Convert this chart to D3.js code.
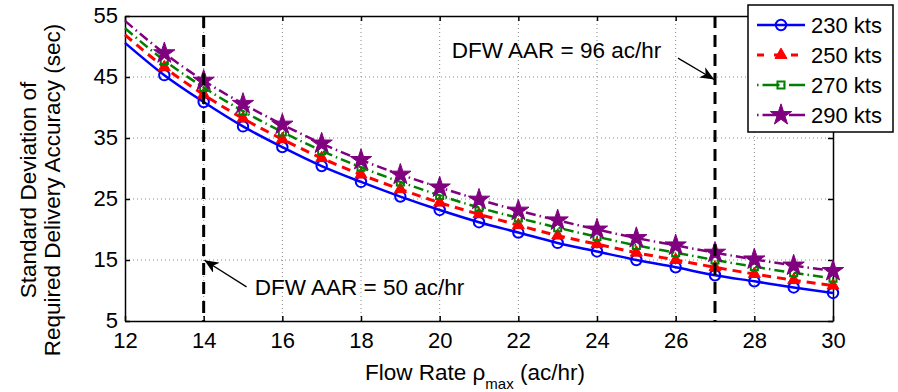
<!DOCTYPE html>
<html>
<head>
<meta charset="utf-8">
<script src="https://cdn.jsdelivr.net/npm/d3@7"></script>
<style type="text/css">
	body {
		margin: 0;
		background-color: #ffffff;
	}
	svg text {
		font-family: "Liberation Sans", Arial, Helvetica, sans-serif;
		fill: #000;
	}
	.axis path, .axis line {
		stroke: #000;
		stroke-width: 1.5;
	}
	.axis text {
		font-size: 22px;
	}
	.grid line {
		stroke: #8a8a8a;
		stroke-width: 1;
		stroke-dasharray: 1,3;
	}
</style>
</head>
<body>
<svg id="chart" width="898" height="392"></svg>
<script type="text/javascript">

// flow rate (ac/hr)
var flowRate = [12,13,14,15,16,17,18,19,20,21,22,23,24,25,26,27,28,29,30];

// std dev of required delivery accuracy (sec), one per speed
var kts230 = [50.6,45.3,40.9,36.9,33.5,30.4,27.8,25.4,23.2,21.2,19.5,17.8,16.4,15.0,13.8,12.5,11.5,10.5,9.6];
var kts250 = [51.9,46.6,42.1,38.2,34.8,31.7,29.0,26.6,24.4,22.5,20.7,19.0,17.6,16.2,15.0,13.8,12.7,11.7,10.8];
var kts270 = [53.0,47.7,43.3,39.4,36.0,32.9,30.2,27.8,25.6,23.6,21.9,20.3,18.8,17.4,16.2,15.0,13.9,12.9,12.0];
var kts290 = [54.2,48.9,44.4,40.6,37.2,34.1,31.4,29.0,26.9,24.9,23.1,21.5,20.0,18.6,17.4,16.2,15.1,14.1,13.2];

var seriesNames = ["230 kts","250 kts","270 kts","290 kts"];

var xTicks = [12,14,16,18,20,22,24,26,28,30];
var yTicks = [5,15,25,35,45,55];

// DFW airport arrival rates marked on the chart
var aarLines = [14, 27];

var svg = d3.select("#chart");
var L = 125, R = 833, T = 16, B = 321;

var x = d3.scaleLinear().domain([12,30]).range([L,R]);
var y = d3.scaleLinear().domain([5,55]).range([B,T]);

// grid
var grid = svg.append("g").attr("class","grid");
grid.selectAll(".gx").data(xTicks.slice(1,-1)).enter().append("line")
	.attr("x1", d => x(d)).attr("x2", d => x(d)).attr("y1", T).attr("y2", B);
grid.selectAll(".gy").data(yTicks.slice(1,-1)).enter().append("line")
	.attr("x1", L).attr("x2", R).attr("y1", d => y(d)).attr("y2", d => y(d));

// axes (ticks inside, box)
svg.append("g").attr("class","axis").attr("transform",`translate(0,${B})`)
	.call(d3.axisBottom(x).tickValues(xTicks).tickSize(-5).tickSizeOuter(0).tickPadding(11));
var yax = svg.append("g").attr("class","axis").attr("transform",`translate(${L},0)`)
	.call(d3.axisLeft(y).tickValues(yTicks).tickSize(-5).tickSizeOuter(0).tickPadding(7));
yax.selectAll("text").attr("dy","0.28em");
svg.append("g").attr("class","axis").attr("transform",`translate(0,${T})`)
	.call(d3.axisTop(x).tickValues(xTicks).tickSize(-5).tickSizeOuter(0).tickFormat(""));
svg.append("g").attr("class","axis").attr("transform",`translate(${R},0)`)
	.call(d3.axisRight(y).tickValues(yTicks).tickSize(-5).tickSizeOuter(0).tickFormat(""));

var styles = [
	{ color: "#0000ff", dash: null, width: 2.5, sym: d3.symbolCircle, size: 85, fill: "none" },
	{ color: "#ff0000", dash: "9,6", width: 3, sym: d3.symbolTriangle, size: 62, fill: "#ff0000" },
	{ color: "#008000", dash: "10,4,1.5,4", width: 2.5, sym: d3.symbolSquare, size: 50, fill: "none" },
	{ color: "#800080", dash: "10,4,1.5,4", width: 2.5, sym: d3.symbolStar, size: 140, fill: "#800080" }
];

var allSeries = [kts230, kts250, kts270, kts290];

var line = d3.line()
	.x((d,i) => x(flowRate[i]))
	.y(d => y(d))
	.curve(d3.curveMonotoneX);

allSeries.forEach(function(vals, s) {
	var st = styles[s];
	svg.append("path")
		.attr("d", line(vals))
		.attr("fill","none")
		.attr("stroke", st.color)
		.attr("stroke-width", st.width)
		.attr("stroke-dasharray", st.dash);
	svg.selectAll(".m"+s)
		.data(vals.map((v,i) => [flowRate[i], v]).filter(p => p[0] >= 13))
		.enter().append("path")
		.attr("transform", p => `translate(${x(p[0])},${y(p[1])})`)
		.attr("d", d3.symbol().type(st.sym).size(st.size))
		.attr("fill", st.fill)
		.attr("stroke", st.color)
		.attr("stroke-width", st.sym == d3.symbolCircle || st.sym == d3.symbolSquare ? 2 : 1);
});

// dashed vertical AAR lines
svg.selectAll(".aar").data(aarLines).enter().append("line")
	.attr("x1", d => x(d)).attr("x2", d => x(d))
	.attr("y1", y(55)).attr("y2", y(5))
	.attr("stroke","#000").attr("stroke-width",3).attr("stroke-dasharray","12,7");

// arrows + notes
svg.append("defs").append("marker")
	.attr("id","head").attr("markerUnits","userSpaceOnUse")
	.attr("markerWidth",16).attr("markerHeight",12)
	.attr("refX",14).attr("refY",6).attr("orient","auto")
	.append("path").attr("d","M0,0 L14,6 L0,12 L4,6 Z").attr("fill","#000");

var notes = [
	{ text: "DFW AAR = 50 ac/hr", tx: 15.3, ty: 9.3, from: [15.09, 10.6], to: [14.02, 14.95] },
	{ text: "DFW AAR = 96 ac/hr", tx: 20.31, ty: 48.1, from: [26.06, 48.1], to: [26.98, 44.6] }
];
notes.forEach(function(n) {
	svg.append("line")
		.attr("x1", x(n.from[0])).attr("y1", y(n.from[1]))
		.attr("x2", x(n.to[0])).attr("y2", y(n.to[1]))
		.attr("stroke","#000").attr("stroke-width",1.3)
		.attr("marker-end","url(#head)");
	svg.append("text")
		.attr("x", x(n.tx)).attr("y", y(n.ty))
		.style("font-size","22.5px")
		.text(n.text);
});

// axis labels
var xl = svg.append("text").attr("x", 475).attr("y", 380)
	.attr("text-anchor","middle").style("font-size","22.5px");
xl.append("tspan").text("Flow Rate \u03c1");
xl.append("tspan").attr("dy", 9).style("font-size","15px").text("max");
xl.append("tspan").attr("dy", -9).text(" (ac/hr)");

var yl = svg.append("text")
	.attr("transform","translate(0,190) rotate(-90)")
	.attr("text-anchor","middle").style("font-size","22.5px");
yl.append("tspan").attr("x",0).attr("y",36).text("Standard Deviation of");
yl.append("tspan").attr("x",0).attr("y",60).text("Required Delivery Accuracy (sec)");

// legend
var lg = svg.append("g").attr("transform","translate(748,5)");
lg.append("rect").attr("width",145).attr("height",127)
	.attr("fill","#fff").attr("stroke","#000").attr("stroke-width",1.5);
seriesNames.forEach(function(name, s) {
	var st = styles[s], ly = 20 + s*30;
	lg.append("line").attr("x1",9).attr("x2",57).attr("y1",ly).attr("y2",ly)
		.attr("stroke",st.color).attr("stroke-width",st.width)
		.attr("stroke-dasharray", st.dash ? (s == 1 ? "7,10" : "1.5,4,17,4") : null);
	lg.append("path").attr("transform",`translate(33,${ly})`)
		.attr("d", d3.symbol().type(st.sym).size(st.size))
		.attr("fill", st.fill).attr("stroke", st.color)
		.attr("stroke-width", st.sym == d3.symbolCircle || st.sym == d3.symbolSquare ? 2 : 1);
	lg.append("text").attr("x",63).attr("y",ly).attr("dy","0.36em")
		.style("font-size","22px").text(name);
});

</script>
</body>
</html>
